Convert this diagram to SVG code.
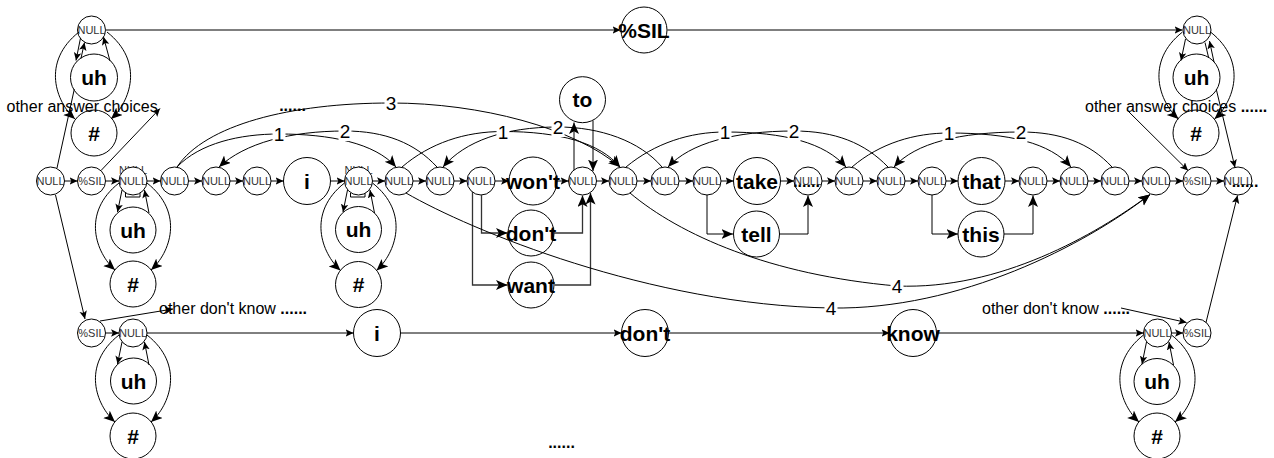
<svg xmlns="http://www.w3.org/2000/svg" width="1274" height="458" viewBox="0 0 1274 458">
<defs>
<marker id="ah" markerWidth="9" markerHeight="8" refX="8" refY="3.75" orient="auto" markerUnits="userSpaceOnUse"><path d="M0,0 L8,3.75 L0,7.5 L1.8,3.75 Z" fill="#000"/></marker>
<marker id="ahL" markerWidth="13" markerHeight="12" refX="11.5" refY="5" orient="auto" markerUnits="userSpaceOnUse"><path d="M0,0 L11.5,5 L0,10 L2.8,5 Z" fill="#000"/></marker>
</defs>
<style>
.nd circle{fill:#fff;stroke:#000;stroke-width:1}
.sm{font-family:"Liberation Sans",Arial,sans-serif;font-size:11px;fill:#333;text-anchor:middle}
.wd{font-family:"Liberation Sans",Arial,sans-serif;font-size:21px;font-weight:bold;fill:#000;text-anchor:middle}
.tx{font-family:"Liberation Sans",Arial,sans-serif;font-size:16px;fill:#000}
.dots{font-weight:bold}
.frag{fill:none;stroke:#000;stroke-width:1}
#connectors path{fill:none;stroke:#000;stroke-width:1}
#connectors .c{marker-end:url(#ah)}
#connectors .k{marker-end:url(#ahL)}
#connectors .g{stroke:#555;stroke-width:1.5}
#connectors .b{stroke:#333;stroke-width:1.3}
.lb{font-family:"Liberation Sans",Arial,sans-serif;font-size:19px;fill:#000;text-anchor:middle}
.lbg{fill:#fff}
</style>
<rect width="1274" height="458" fill="#fff"/>

<!-- top branch -->
<g id="top-null" class="nd"><circle cx="91.5" cy="30" r="14"/><text class="sm" x="91.5" y="34">NULL</text></g>
<g id="top-uh" class="nd"><circle cx="94" cy="77.5" r="23.5"/><text class="wd" x="94" y="85">uh</text></g>
<g id="top-hash" class="nd"><circle cx="94" cy="133" r="23"/><text class="wd" x="94" y="140.5">#</text></g>
<g id="top-sil" class="nd"><circle cx="644" cy="30" r="23"/><text class="wd" x="644" y="37.5">%SIL</text></g>
<g id="top-null-r" class="nd"><circle cx="1197" cy="30" r="14"/><text class="sm" x="1197" y="34">NULL</text></g>
<g id="top-uh-r" class="nd"><circle cx="1196.5" cy="77.5" r="23.5"/><text class="wd" x="1196.5" y="85">uh</text></g>
<g id="top-hash-r" class="nd"><circle cx="1196" cy="133" r="23"/><text class="wd" x="1196" y="140.5">#</text></g>

<!-- main row -->
<g id="m-start" class="nd"><circle cx="50.5" cy="181" r="14"/><text class="sm" x="50.5" y="185">NULL</text></g>
<g id="m-sil-a" class="nd"><circle cx="91.5" cy="181" r="14"/><text class="sm" x="91.5" y="185">%SIL</text></g>
<g id="m-null-133" class="nd"><text class="sm" x="133" y="174">NULL</text><path class="frag" d="M125.5,193 V197 H140 V193"/><circle cx="133" cy="181" r="14"/><text class="sm" x="133" y="185">NULL</text></g>
<g id="m-uh-133" class="nd"><circle cx="133" cy="230" r="23"/><text class="wd" x="133" y="237.5">uh</text></g>
<g id="m-hash-133" class="nd"><circle cx="133" cy="284" r="23"/><text class="wd" x="133" y="291.5">#</text></g>
<g id="m-null-174" class="nd"><circle cx="174.5" cy="181" r="14"/><text class="sm" x="174.5" y="185">NULL</text></g>
<g id="m-null-216" class="nd"><circle cx="216" cy="181" r="14"/><text class="sm" x="216" y="185">NULL</text></g>
<g id="m-null-257" class="nd"><circle cx="257" cy="181" r="14"/><text class="sm" x="257" y="185">NULL</text></g>
<g id="m-i" class="nd"><circle cx="307" cy="181" r="23.5"/><text class="wd" x="307" y="188.5">i</text></g>
<g id="m-null-359" class="nd"><text class="sm" x="358.5" y="174">NULL</text><path class="frag" d="M350.5,193 V197 H365 V193"/><circle cx="358.5" cy="181" r="14"/><text class="sm" x="358.5" y="185">NULL</text></g>
<g id="m-uh-359" class="nd"><circle cx="358.5" cy="229.5" r="23"/><text class="wd" x="358.5" y="237">uh</text></g>
<g id="m-hash-359" class="nd"><circle cx="358.5" cy="284.5" r="23"/><text class="wd" x="358.5" y="292">#</text></g>
<g id="m-null-399" class="nd"><circle cx="399" cy="181" r="14"/><text class="sm" x="399" y="185">NULL</text></g>
<g id="m-null-440" class="nd"><circle cx="440" cy="181" r="14"/><text class="sm" x="440" y="185">NULL</text></g>
<g id="m-null-481" class="nd"><circle cx="481" cy="181" r="14"/><text class="sm" x="481" y="185">NULL</text></g>
<g id="m-wont" class="nd"><circle cx="533" cy="181" r="24"/><text class="wd" x="533" y="188.5">won't</text></g>
<g id="m-dont" class="nd"><circle cx="531" cy="233" r="23"/><text class="wd" x="531" y="240.5">don't</text></g>
<g id="m-want" class="nd"><circle cx="531" cy="285" r="23"/><text class="wd" x="531" y="292.5">want</text></g>
<g id="m-null-582" class="nd"><circle cx="582.5" cy="181" r="14"/><text class="sm" x="582.5" y="185">NULL</text></g>
<g id="m-to" class="nd"><circle cx="582.5" cy="99.7" r="23"/><text class="wd" x="582.5" y="107.2">to</text></g>
<g id="m-null-623" class="nd"><circle cx="623" cy="181" r="14"/><text class="sm" x="623" y="185">NULL</text></g>
<g id="m-null-665" class="nd"><circle cx="665" cy="181" r="14"/><text class="sm" x="665" y="185">NULL</text></g>
<g id="m-null-707" class="nd"><circle cx="707" cy="181" r="14"/><text class="sm" x="707" y="185">NULL</text></g>
<g id="m-take" class="nd"><circle cx="757" cy="181" r="23.5"/><text class="wd" x="757" y="188.5">take</text></g>
<g id="m-tell" class="nd"><circle cx="756.5" cy="234" r="23"/><text class="wd" x="756.5" y="241.5">tell</text></g>
<g id="m-null-808" class="nd"><circle cx="808" cy="181" r="14"/><text class="sm" x="808" y="185">NULL</text><text class="tx dots" x="806.5" y="187" text-anchor="middle">......</text></g>
<g id="m-null-849" class="nd"><circle cx="849" cy="181" r="14"/><text class="sm" x="849" y="185">NULL</text></g>
<g id="m-null-891" class="nd"><circle cx="891" cy="181" r="14"/><text class="sm" x="891" y="185">NULL</text></g>
<g id="m-null-932" class="nd"><circle cx="932" cy="181" r="14"/><text class="sm" x="932" y="185">NULL</text></g>
<g id="m-that" class="nd"><circle cx="981.5" cy="181" r="23.5"/><text class="wd" x="981.5" y="188.5">that</text></g>
<g id="m-this" class="nd"><circle cx="981" cy="234" r="23"/><text class="wd" x="981" y="241.5">this</text></g>
<g id="m-null-1033" class="nd"><circle cx="1033" cy="181" r="14"/><text class="sm" x="1033" y="185">NULL</text></g>
<g id="m-null-1074" class="nd"><circle cx="1074" cy="181" r="14"/><text class="sm" x="1074" y="185">NULL</text></g>
<g id="m-null-1115" class="nd"><circle cx="1115" cy="181" r="14"/><text class="sm" x="1115" y="185">NULL</text></g>
<g id="m-null-1156" class="nd"><circle cx="1156" cy="181" r="14"/><text class="sm" x="1156" y="185">NULL</text></g>
<g id="m-sil-b" class="nd"><circle cx="1197" cy="181" r="14"/><text class="sm" x="1197" y="185">%SIL</text></g>
<g id="m-end" class="nd"><circle cx="1238" cy="181" r="14"/><text class="sm" x="1238" y="185">NULL</text><text class="tx dots" x="1245" y="187" text-anchor="middle">......</text></g>

<!-- bottom branch -->
<g id="b-sil" class="nd"><circle cx="91.5" cy="333" r="14"/><text class="sm" x="91.5" y="337">%SIL</text></g>
<g id="b-null" class="nd"><circle cx="133" cy="333" r="14"/><text class="sm" x="133" y="337">NULL</text></g>
<g id="b-uh" class="nd"><circle cx="133.5" cy="381" r="23"/><text class="wd" x="133.5" y="388.5">uh</text></g>
<g id="b-hash" class="nd"><circle cx="133" cy="436" r="23"/><text class="wd" x="133" y="443.5">#</text></g>
<g id="b-i" class="nd"><circle cx="377" cy="333" r="23.5"/><text class="wd" x="377" y="340.5">i</text></g>
<g id="b-dont" class="nd"><circle cx="645" cy="333" r="23.5"/><text class="wd" x="645" y="340.5">don't</text></g>
<g id="b-know" class="nd"><circle cx="913" cy="333" r="23.5"/><text class="wd" x="913" y="340.5">know</text></g>
<g id="b-null-r" class="nd"><circle cx="1157.5" cy="333" r="14"/><text class="sm" x="1157.5" y="337">NULL</text></g>
<g id="b-sil-r" class="nd"><circle cx="1197" cy="333" r="14"/><text class="sm" x="1197" y="337">%SIL</text></g>
<g id="b-uh-r" class="nd"><circle cx="1157" cy="381.5" r="23"/><text class="wd" x="1157" y="389">uh</text></g>
<g id="b-hash-r" class="nd"><circle cx="1157" cy="436" r="23"/><text class="wd" x="1157" y="443.5">#</text></g>

<!-- free captions -->
<g id="captions">
<text class="tx" x="6.5" y="111.5">other answer choices</text>
<text class="tx" x="1085" y="111.5">other answer choices <tspan class="dots">......</tspan></text>
<text class="tx" x="159" y="314">other don't know <tspan class="dots">......</tspan></text>
<text class="tx" x="982" y="314">other don't know <tspan class="dots">......</tspan></text>
<text class="tx dots" x="292.5" y="111" text-anchor="middle">......</text>
<text class="tx dots" x="561.5" y="448" text-anchor="middle">......</text>
</g>

<g id="connectors">
<!-- top branch -->
<path class="c g" d="M105.5,30 H620.5"/>
<path class="c g" d="M667,30 H1182.5"/>
<!-- main chain -->
<path class="c" d="M64.5,181 H77.5"/>
<path class="c" d="M105.5,181 H119"/>
<path class="c" d="M147,181 H160.5"/>
<path class="c" d="M188.5,181 H202"/>
<path class="c" d="M230,181 H243"/>
<path class="c" d="M271,181 H283.5"/>
<path class="c" d="M330.5,181 H344.5"/>
<path class="c" d="M372.5,181 H385"/>
<path class="c" d="M413,181 H426"/>
<path class="c" d="M454,181 H467"/>
<path class="c" d="M495,181 H509"/>
<path class="c" d="M557,181 H568.5"/>
<path class="c" d="M596.5,181 H609"/>
<path class="c" d="M637,181 H651"/>
<path class="c" d="M679,181 H693"/>
<path class="c" d="M721,181 H733.5"/>
<path class="c" d="M780.5,181 H794"/>
<path class="c" d="M822,181 H835"/>
<path class="c" d="M863,181 H877"/>
<path class="c" d="M905,181 H918"/>
<path class="c" d="M946,181 H958"/>
<path class="c" d="M1005,181 H1019"/>
<path class="c" d="M1047,181 H1060"/>
<path class="c" d="M1088,181 H1101"/>
<path class="c" d="M1129,181 H1142"/>
<path class="c" d="M1170,181 H1183"/>
<path class="c" d="M1211,181 H1224"/>
<!-- alternatives -->
<path class="k b" d="M481.5,195 V233 H507.5"/>
<path class="k b" d="M472.5,192 V285 H507.5"/>
<path class="k b" d="M554,233 H582.5 V195.5"/>
<path class="k b" d="M554.5,285 H590.5 V193"/>
<path class="k" d="M574,170 V122.5"/>
<path class="k" d="M593,120.5 V171"/>
<path class="k" d="M707,195 V234 H733"/>
<path class="k" d="M779.5,234 H808 V195.5"/>
<path class="k" d="M932,195 V234 H958"/>
<path class="k" d="M1004,234 H1033 V195.5"/>
<!-- numbered skips -->
<path class="k" d="M177,167 C200,143 240,134 279,134 C330,134 375,143 396,167"/>
<path class="k" d="M437,167 C415,143 385,131 345,131 C290,131 245,143 219,167"/>
<path class="k" d="M402,167 C430,143 465,131.5 503,131.5 C560,131.5 600,143 620,167"/>
<path class="k" d="M662,167 C640,141 600,127 558,127 C505,127 465,141 443,167"/>
<path class="k" d="M626,167 C655,143 690,132 725,132 C785,132 825,143 846,167"/>
<path class="k" d="M888,167 C865,143 835,131 794,131 C735,131 690,143 668,167"/>
<path class="k" d="M852,167 C880,143 915,133 949,133 C1010,133 1050,143 1071,167"/>
<path class="k" d="M1112,167 C1090,143 1060,132 1021,132 C960,132 915,143 894,167"/>
<path class="k" d="M177,167 C205,125 290,103 391,103 C480,103 575,128 620,167"/>
<path class="k" d="M630,193 C680,235 770,275 897,286 C1000,290 1095,235 1150,194.5"/>
<path class="k" d="M406,193 C470,230 650,305 831,308 C960,310 1085,245 1150,194.5"/>
<!-- fillers top-left -->
<path class="c" d="M80.5,38 L76,60.5"/>
<path class="c" d="M110,61 L103.5,37"/>
<path class="k" d="M79,32 C41,62 56,102 75,119"/>
<path class="k" d="M107,32 C145,62 130,102 111,119"/>
<path class="c" d="M57,168 L74.3,89.2 M80.9,58.7 L84.5,42.5"/>
<!-- fillers top-right -->
<path class="c" d="M1185.5,39 L1181,60.5"/>
<path class="c" d="M1214,62 L1209.5,41"/>
<path class="k" d="M1182.5,32 C1144.5,62 1159.5,102 1178.5,119"/>
<path class="k" d="M1210.5,32 C1248.5,62 1233.5,102 1214.5,119"/>
<path class="c" d="M1205,42.5 L1208.7,58 M1216.3,89.4 L1235,167.5"/>
<!-- fillers main row -->
<path class="c" d="M122,190 L117.5,212"/>
<path class="c" d="M149,213 L144.5,190"/>
<path class="k" d="M119,183 C81,213 96,253 115,270"/>
<path class="k" d="M147,183 C185,213 170,253 151,270"/>
<path class="c" d="M347.5,190 L343,212"/>
<path class="c" d="M374.5,213 L370,190"/>
<path class="k" d="M344.5,183 C306.5,213 321.5,253 340.5,270.5"/>
<path class="k" d="M372.5,183 C410.5,213 395.5,253 376.5,270.5"/>
<!-- fillers bottom -->
<path class="c" d="M122,342 L117.5,364"/>
<path class="c" d="M149,365 L144.5,342"/>
<path class="k" d="M119,335 C81,365 96,405 115,422"/>
<path class="k" d="M147,335 C185,365 170,405 151,422"/>
<path class="c" d="M1146.5,342 L1142,364"/>
<path class="c" d="M1173.5,365 L1169,342"/>
<path class="k" d="M1143.5,335 C1105.5,365 1120.5,405 1139,422"/>
<path class="k" d="M1171.5,335 C1209.5,365 1194.5,405 1175,422"/>
<!-- entry / exit routes -->
<path class="c" d="M101,170.5 L160,108.5"/>
<path class="c" d="M55.5,195 L85,319"/>
<path class="c" d="M100,321 L173,309"/>
<path class="c" d="M1127,110 L1188,170.5"/>
<path class="c" d="M1121,308 L1186.5,322.5"/>
<path class="c" d="M1206,322.5 L1237.5,195.5"/>
<!-- bottom chain -->
<path class="c" d="M105.5,333 H119"/>
<path class="c" d="M147,333 H353.5"/>
<path class="c" d="M400.5,333 H621.5"/>
<path class="c" d="M668.5,333 H889.5"/>
<path class="c" d="M936.5,333 H1143.5"/>
<path class="c" d="M1171.5,333 H1183"/>
</g>

<g id="edge-labels">
<rect class="lbg" x="272.5" y="124" width="13" height="20"/><text class="lb" x="279" y="141">1</text>
<rect class="lbg" x="338.5" y="121" width="13" height="20"/><text class="lb" x="345" y="138">2</text>
<rect class="lbg" x="496.5" y="121.5" width="13" height="20"/><text class="lb" x="503" y="138.5">1</text>
<rect class="lbg" x="551.5" y="117" width="13" height="20"/><text class="lb" x="558" y="134">2</text>
<rect class="lbg" x="718.5" y="122" width="13" height="20"/><text class="lb" x="725" y="139">1</text>
<rect class="lbg" x="787.5" y="121" width="13" height="20"/><text class="lb" x="794" y="138">2</text>
<rect class="lbg" x="942.5" y="123" width="13" height="20"/><text class="lb" x="949" y="140">1</text>
<rect class="lbg" x="1014.5" y="122" width="13" height="20"/><text class="lb" x="1021" y="139">2</text>
<rect class="lbg" x="384.5" y="93" width="13" height="20"/><text class="lb" x="391" y="110">3</text>
<rect class="lbg" x="890.5" y="276" width="13" height="20"/><text class="lb" x="897" y="293">4</text>
<rect class="lbg" x="824.5" y="298" width="13" height="20"/><text class="lb" x="831" y="315">4</text>
</g>
</svg>
